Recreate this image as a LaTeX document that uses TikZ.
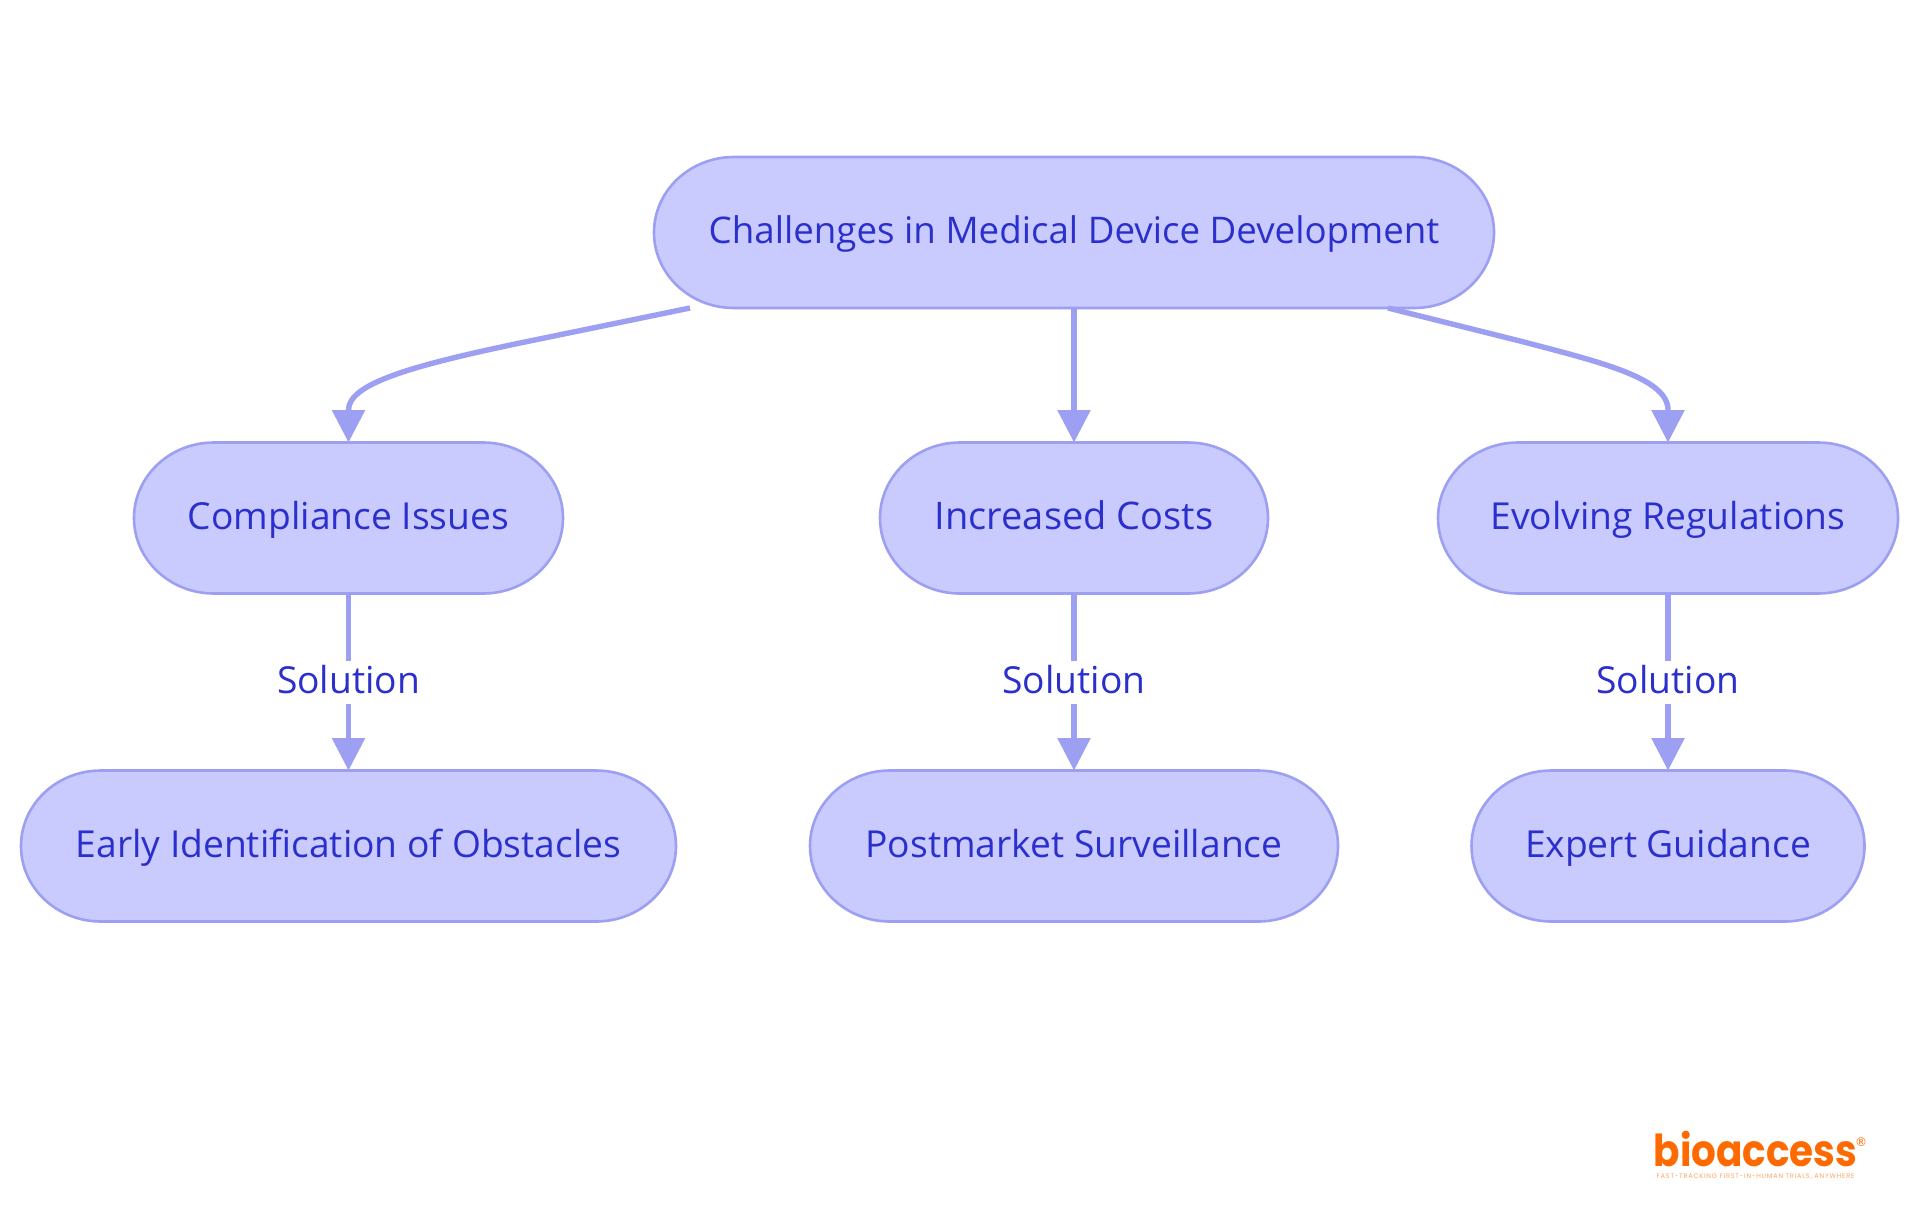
\documentclass[tikz,border=0pt]{standalone}
\usepackage{fontspec}
\setmainfont{Open Sans}
\newfontfamily\logofont{Poppins}
\newfontfamily\regfont{DejaVu Sans}
\definecolor{nodefill}{HTML}{C9CBFF}
\definecolor{nodeline}{HTML}{9C9FF2}
\definecolor{inkblue}{HTML}{2B2FCC}
\definecolor{logoorange}{HTML}{FF6A00}
\usetikzlibrary{arrows.meta}
\tikzset{
  x=0.5pt,y=-0.5pt,
  pillshape/.style={draw=nodeline,fill=nodefill,line width=1.3pt},
  pill/.style={text=inkblue,font=\fontsize{18.6}{22}\selectfont,minimum height=75.5pt,inner sep=0pt,outer sep=0pt,
    text height=15.3pt,text depth=4.2pt},
  link/.style={draw=nodeline,line width=2.7pt,-{Triangle[length=16.2pt,width=16pt]}},
  lbl/.style={fill=white,text=inkblue,font=\fontsize{18.6}{22}\selectfont,inner xsep=0pt,inner ysep=0pt,
    text height=15.3pt,text depth=4.2pt,minimum height=21.5pt}
}
% \pillnode{name}{cx}{cy}{width in pt}{text}: elliptical-ended box, then its named node on top
\newcommand\pillnode[5]{%
  \path[pillshape] (#2,#3) ++(-#4/2+40pt,37.75pt)
    -- ++(#4-80pt,0pt) arc[start angle=90,end angle=-90,x radius=40pt,y radius=37.75pt]
    -- ++(-#4+80pt,0pt) arc[start angle=270,end angle=90,x radius=40pt,y radius=37.75pt] -- cycle;
  \node[pill,minimum width=#4] (#1) at (#2,#3) {#5};}
\begin{document}
\begin{tikzpicture}
\useasboundingbox (0,0) rectangle (1920,1215);
\fill[white] (0,0) rectangle (1920,1215);
\pillnode{root}{1074}{232.5}{420pt}{\fontsize{18.35}{22}\selectfont Challenges in Medical Device Development}
\pillnode{comp}{348.5}{518}{214.5pt}{Compliance Issues}
\pillnode{cost}{1074}{518}{194pt}{\fontsize{19}{22}\selectfont Increased Costs}
\pillnode{evol}{1668}{518}{230pt}{Evolving Regulations}
\pillnode{early}{348.5}{846}{327.5pt}{Early Identification of Obstacles}
\pillnode{post}{1074}{846}{264pt}{Postmarket Surveillance}
\pillnode{expert}{1668}{846}{196.5pt}{Expert Guidance}
\coordinate (rl) at (690,308);
\coordinate (rr) at (1388,308);
\draw[link] (rl) -- (520,343) .. controls (410,366) and (348.5,384) .. (348.5,410) -- (comp.north);
\draw[link] (root.south) -- (cost.north);
\draw[link] (rr) -- (1520,341) .. controls (1600,362) and (1668,378) .. (1668,410) -- (evol.north);
\draw[link] (comp.south) -- node[lbl] (s1) {Solution} (early.north);
\draw[link] (cost.south) -- node[lbl] (s2) {Solution} (post.north);
\draw[link] (evol.south) -- node[lbl] (s3) {Solution} (expert.north);
\node[text=logoorange,font=\logofont\bfseries\fontsize{22}{22}\selectfont,inner sep=0pt,anchor=base,xscale=.885] (logo) at (1755.5,1166.5) {bioaccess};
\node[text=logoorange,font=\regfont\fontsize{6}{7}\selectfont,inner sep=0pt] (reg) at (1861,1142) {®};
\node[text=logoorange!60,font=\logofont\fontsize{3.3}{4}\selectfont\addfontfeature{LetterSpace=11.5},inner sep=0pt] (tag) at (1755.5,1177) {FAST-TRACKING FIRST-IN-HUMAN TRIALS, ANYWHERE};
\end{tikzpicture}
\end{document}
